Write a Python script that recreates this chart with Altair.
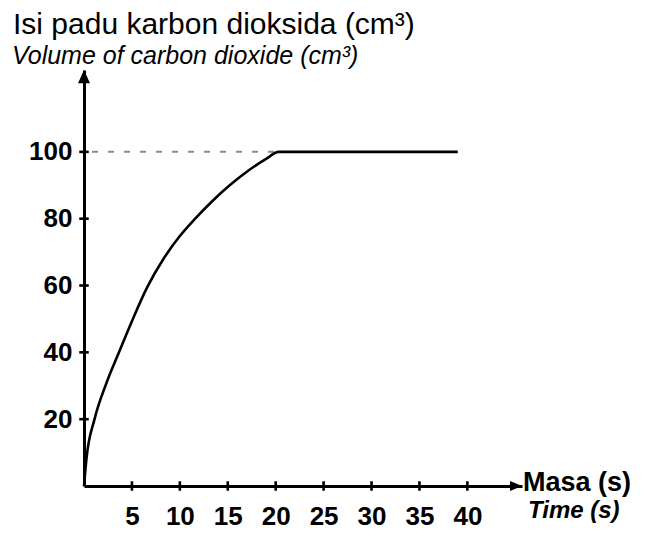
import altair as alt
import pandas as pd

# ---- data ----
time_s = [0, 0.25, 1.1, 2.3, 3.65, 5.1, 6.6, 8.3, 10.0, 11.6, 13.4, 15.2, 17.2, 19.0, 20.3, 39.0]
volume_cm3 = [0, 8, 20, 30.5, 40, 50, 59.5, 68, 74.8, 80, 85.3, 90, 94.5, 97.9, 100, 100]
x_ticks = [5, 10, 15, 20, 25, 30, 35, 40]
y_ticks = [20, 40, 60, 80, 100]
x_axis_end = 45.7
y_axis_end = 124.5
final_volume = 100
plateau_start = 20.3

title_ms = "Isi padu karbon dioksida (cm³)"
title_en = "Volume of carbon dioxide (cm³)"
xlabel_ms = "Masa (s)"
xlabel_en = "Time (s)"

FONT = "Liberation Sans"
W, H = 438, 416

xs = alt.Scale(domain=[0, x_axis_end], nice=False, zero=True)
ys = alt.Scale(domain=[0, y_axis_end], nice=False, zero=True)

curve_df = pd.DataFrame({"t": time_s, "v": volume_cm3})
curve = alt.Chart(curve_df).mark_line(
    color="black", strokeWidth=2.6, interpolate="monotone"
).encode(
    x=alt.X("t:Q", scale=xs, title=None,
            axis=alt.Axis(values=x_ticks, grid=False, ticks=False, domain=True,
                          domainColor="black", domainWidth=3,
                          labelFont=FONT, labelFontSize=26, labelFontWeight="bold",
                          labelColor="black", labelPadding=17, labelFlush=False)),
    y=alt.Y("v:Q", scale=ys, title=None,
            axis=alt.Axis(values=y_ticks, grid=False, ticks=False, domain=True,
                          domainColor="black", domainWidth=3,
                          labelFont=FONT, labelFontSize=26, labelFontWeight="bold",
                          labelColor="black", labelPadding=12, labelFlush=False)),
)

dash_df = pd.DataFrame({"x0": [0], "x1": [plateau_start], "y": [final_volume]})
dashed = alt.Chart(dash_df).mark_rule(
    color="#8a8a8a", strokeWidth=2, strokeDash=[6, 10], strokeDashOffset=8
).encode(x=alt.X("x0:Q", scale=xs), x2="x1:Q", y=alt.Y("y:Q", scale=ys))

ytick_df = pd.DataFrame({"x": [0] * len(y_ticks), "y": y_ticks})
yticks = alt.Chart(ytick_df).mark_point(
    shape="M-1,0L1,0", size=90, strokeWidth=2.6, color="black", opacity=1
).encode(x=alt.X("x:Q", scale=xs), y=alt.Y("y:Q", scale=ys))

xtick_df = pd.DataFrame({"x": x_ticks, "y": [0] * len(x_ticks)})
xticks = alt.Chart(xtick_df).mark_point(
    shape="M0,-1L0,1", size=90, strokeWidth=2.6, color="black", opacity=1
).encode(x=alt.X("x:Q", scale=xs), y=alt.Y("y:Q", scale=ys))

xarrow = alt.Chart(pd.DataFrame({"x": [x_axis_end], "y": [0]})).mark_point(
    shape="M0,0L-2,-0.85L-2,0.85Z", size=144, filled=True, color="black",
    opacity=1, strokeWidth=0.5
).encode(x=alt.X("x:Q", scale=xs), y=alt.Y("y:Q", scale=ys))

yarrow = alt.Chart(pd.DataFrame({"x": [0], "y": [y_axis_end]})).mark_point(
    shape="M0,0L-1,2.2L1,2.2Z", size=144, filled=True, color="black",
    opacity=1, strokeWidth=0.5
).encode(x=alt.X("x:Q", scale=xs), y=alt.Y("y:Q", scale=ys))


def label(text, x, y, size, weight="normal", style="normal"):
    return alt.Chart(pd.DataFrame({"label": [text]})).mark_text(
        font=FONT, fontSize=size, fontWeight=weight, fontStyle=style,
        align="left", baseline="alphabetic", color="black"
    ).encode(x=alt.value(x), y=alt.value(y), text="label:N")


t1 = label(title_ms, -71, -36, 30)
t2 = label(title_en, -72, -6, 25, style="italic")
t3 = label(xlabel_ms, W + 1, 421, 27, weight="bold")
t4 = label(xlabel_en, W + 6, 448, 24, weight="bold", style="italic")

chart = alt.layer(dashed, curve, yticks, xticks, xarrow, yarrow, t1, t2, t3, t4).properties(
    width=W, height=H,
    padding={"left": 76, "top": 62, "right": 118, "bottom": 44},
    autosize=alt.AutoSizeParams(type="none"),
    background="white",
).configure_view(stroke=None)

chart.save("out.html", embed_options={"renderer": "svg", "actions": False})
